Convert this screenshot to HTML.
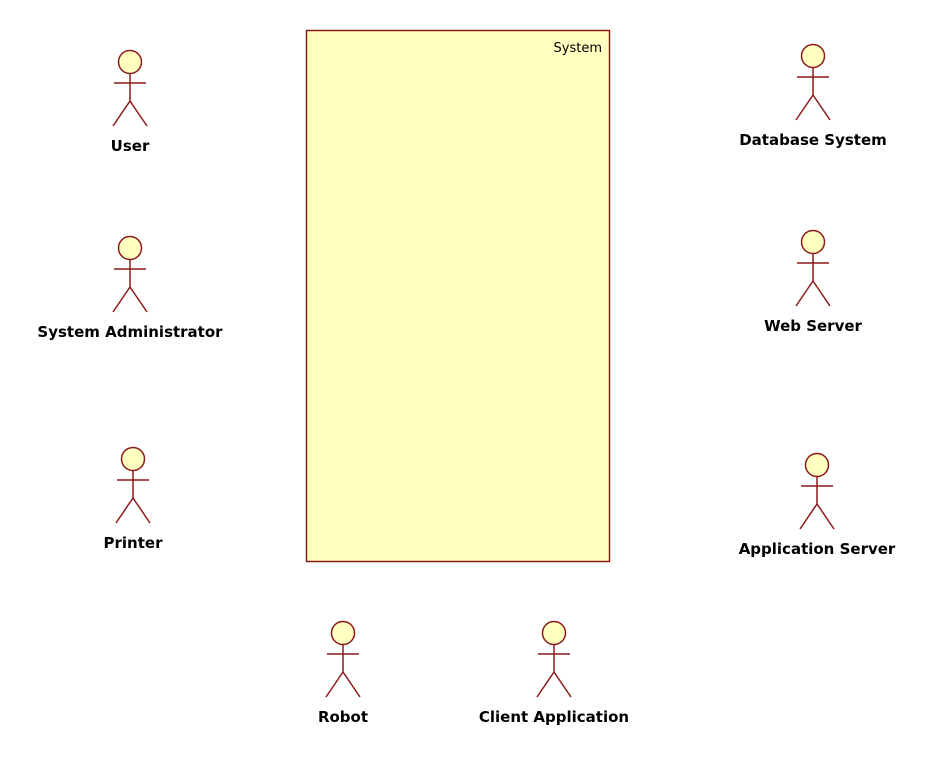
<!DOCTYPE html>
<html><head><style>body{margin:0;background:#fff;width:932px;height:764px;overflow:hidden}</style></head>
<body>
<svg width="932" height="764" xmlns="http://www.w3.org/2000/svg" font-family="'DejaVu Sans','Liberation Sans',sans-serif">
<defs>
<g id="a" stroke="#8b1a1a" stroke-width="1.5" fill="none">
<circle cx="0" cy="0" r="11.5" fill="#ffffc0"/>
<line x1="0" y1="11.5" x2="0" y2="39"/>
<line x1="-16" y1="21" x2="16" y2="21"/>
<line x1="0" y1="39" x2="-17" y2="64"/>
<line x1="0" y1="39" x2="17" y2="64"/>
</g>
</defs>
<rect x="306.5" y="30.5" width="303" height="531" fill="#ffffc0" stroke="#8b1a1a" stroke-width="1.5"/>
<text x="602" y="52" font-size="13" text-anchor="end" fill="#000">System</text>
<g font-size="15" font-weight="bold" text-anchor="middle" fill="#000">
<use href="#a" x="130" y="62"/><text x="130" y="151">User</text>
<use href="#a" x="130" y="248"/><text x="130" y="337">System Administrator</text>
<use href="#a" x="133" y="459"/><text x="133" y="548">Printer</text>
<use href="#a" x="813" y="56"/><text x="813" y="145">Database System</text>
<use href="#a" x="813" y="242"/><text x="813" y="331">Web Server</text>
<use href="#a" x="817" y="465"/><text x="817" y="554">Application Server</text>
<use href="#a" x="343" y="633"/><text x="343" y="722">Robot</text>
<use href="#a" x="554" y="633"/><text x="554" y="722">Client Application</text>
</g>
</svg>
</body></html>
